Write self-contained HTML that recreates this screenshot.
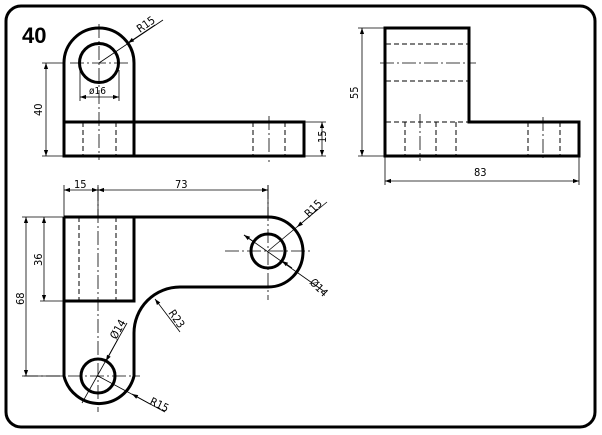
<!DOCTYPE html>
<html><head><meta charset="utf-8"><style>
html,body{margin:0;padding:0;background:#fff;}
svg{display:block;}
text{font-family:"DejaVu Sans Condensed","Liberation Sans",sans-serif;font-size:11px;fill:#000;}
</style></head><body>
<svg width="602" height="435" viewBox="0 0 602 435" xmlns="http://www.w3.org/2000/svg">
<defs>
<marker id="a" viewBox="0 0 10 10" refX="10" refY="5" markerWidth="8" markerHeight="6" orient="auto-start-reverse" markerUnits="userSpaceOnUse"><path d="M0,1.5 L10,5 L0,8.5z" fill="#000"/></marker>
</defs>
<rect x="6" y="6" width="589" height="421" rx="15" fill="none" stroke="#000" stroke-width="3"/>
<text x="22" y="43" style="font-family:'Liberation Sans',sans-serif;font-size:22px;font-weight:bold">40</text>

<g fill="none" stroke="#000">
<!-- FRONT VIEW -->
<g stroke-width="3">
<path d="M64,156 V63 A35,35 0 0 1 134,63 V156"/>
<circle cx="99" cy="63" r="19.5"/>
<rect x="64" y="122" width="240" height="34"/>
</g>
<g stroke-width="1" stroke-dasharray="5,3">
<path d="M83,122V156M116,122V156M253,122V156M285,122V156"/>
</g>
<g stroke-width="0.8" stroke-dasharray="14,3,2,3">
<path d="M99,24V160M70,63H130M269,116V162"/>
</g>
<g stroke-width="0.8">
<path d="M42,63H64M42,156H64"/>
<path d="M46,63V156" marker-start="url(#a)" marker-end="url(#a)"/>
<path d="M80,70V101M119,70V101"/>
<path d="M80,97H119" marker-start="url(#a)" marker-end="url(#a)"/>
<path d="M99,63L163,20"/>
<path d="M155,25L128,43" marker-end="url(#a)"/>
<path d="M304,122H326M304,156H326"/>
<path d="M322,122V156" marker-start="url(#a)" marker-end="url(#a)"/>
</g>

<!-- SIDE VIEW -->
<g stroke-width="3">
<path d="M385,28H469V122H579V156H385Z"/>
</g>
<g stroke-width="1" stroke-dasharray="5,3">
<path d="M386,44H469M386,81H469M386,122H469M405,122V156M436,122V156M456,122V156M528,122V156M560,122V156"/>
</g>
<g stroke-width="0.8" stroke-dasharray="14,3,2,3">
<path d="M380,63H476M420,114V161M543,117V161"/>
</g>
<g stroke-width="0.8">
<path d="M358,28H385M358,156H385"/>
<path d="M362,28V156" marker-start="url(#a)" marker-end="url(#a)"/>
<path d="M385,156V185M579,156V185"/>
<path d="M385,181H579" marker-start="url(#a)" marker-end="url(#a)"/>
</g>

<!-- TOP VIEW -->
<g stroke-width="3">
<path d="M64,217H268A35,35 0 0 1 268,287H180A46,46 0 0 0 134,333V376A36,36 0 0 1 64,376V217"/>
<path d="M64,301H134V217"/>
<circle cx="268" cy="251" r="17"/>
<circle cx="98" cy="376" r="17"/>
</g>
<g stroke-width="1" stroke-dasharray="5,3">
<path d="M79,217V301M116,217V301"/>
</g>
<g stroke-width="0.8" stroke-dasharray="14,3,2,3">
<path d="M98,187V412M24,376H140M225,251H310M268,185V300"/>
</g>
<g stroke-width="0.8">
<path d="M64,217V185M98,217V185M268,217V185"/>
<path d="M64,190H98" marker-start="url(#a)" marker-end="url(#a)"/>
<path d="M98,190H268" marker-start="url(#a)" marker-end="url(#a)"/>
<path d="M22,217H64M22,376H64M40,301H64"/>
<path d="M26,217V376" marker-start="url(#a)" marker-end="url(#a)"/>
<path d="M44,217V301" marker-start="url(#a)" marker-end="url(#a)"/>
<path d="M268,251L327,202"/>
<path d="M318,209L297,227" marker-end="url(#a)"/>
<path d="M244,235L325,292"/>
<path d="M244,235L254,242" marker-start="url(#a)"/>
<path d="M282,261L292,268" marker-start="url(#a)"/>
<path d="M180,332L155,299" marker-end="url(#a)"/>
<path d="M127,323L82,403"/>
<path d="M118,339L106,361" marker-end="url(#a)"/>
<path d="M98,376L165,412"/>
<path d="M150,404L132,394" marker-end="url(#a)"/>
</g>
</g>

<!-- TEXT -->
<text transform="translate(42,116) rotate(-90)">40</text>
<text x="89" y="94" style="font-size:10px">ø16</text>
<text transform="translate(140,33) rotate(-35)">R15</text>
<text transform="translate(326,143) rotate(-90)">15</text>
<text transform="translate(358,99) rotate(-90)">55</text>
<text x="474" y="176">83</text>
<text x="74" y="188">15</text>
<text x="175" y="188">73</text>
<text transform="translate(24,305) rotate(-90)">68</text>
<text transform="translate(42,266) rotate(-90)">36</text>
<text transform="translate(309,218) rotate(-45)">R15</text>
<text transform="translate(309,283) rotate(45)">Ø14</text>
<text transform="translate(168,313) rotate(55)">R23</text>
<text transform="translate(116,340) rotate(-60)">Ø14</text>
<text transform="translate(149,404) rotate(25)">R15</text>
</svg>
</body></html>
